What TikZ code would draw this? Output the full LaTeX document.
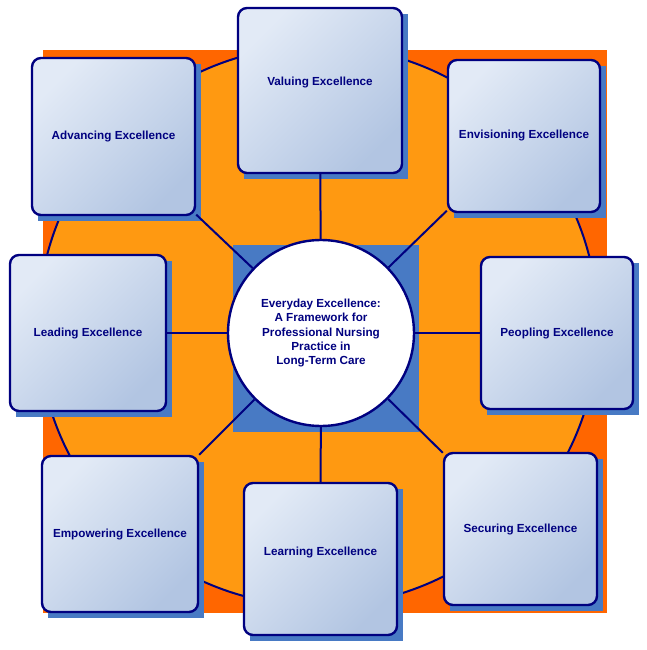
\documentclass[tikz,border=0pt]{standalone}
\usepackage{fontspec}
\setmainfont{Liberation Sans}
\definecolor{navy}{RGB}{0,0,128}
\definecolor{rust}{RGB}{255,102,0}
\definecolor{amber}{RGB}{255,153,17}
\definecolor{steel}{RGB}{72,122,196}
\definecolor{paleblue}{RGB}{226,234,246}
\definecolor{mistblue}{RGB}{178,197,226}

\begin{document}
\begin{tikzpicture}[x=1pt, y=-1pt, anchor=center,
	font=\fontsize{11.7}{14.3}\selectfont\bfseries,
	pillar/.style={draw=navy, line width=2.4pt, rounded corners=9pt, left color=paleblue, right color=mistblue, shading angle=45, text=navy, inner sep=0pt},
	link/.style={draw=navy, line width=2pt}]

		\useasboundingbox (0,0) rectangle (647,650);

		\newcommand{\mkpillar}[6]{
			%ombre
			\fill[steel] (#2-#4/2+6,#3-#5/2+6) rectangle (#2+#4/2+6,#3+#5/2+6);
			%la case
			\node[pillar, minimum width=#4pt, minimum height=#5pt] (#1) at (#2,#3) {#6};
		}

		%le fond
		\fill[rust] (43,50) rectangle (607,613);
		\filldraw[amber, draw=navy, line width=2pt] (318,326) circle (280pt);
		\fill[steel] (233,245) rectangle (419,432);

		%le centre
		\node[circle, draw=navy, fill=white, line width=2.4pt, minimum size=186pt, inner sep=0pt, text=navy, align=center] (hub) at (321,333)
			{Everyday Excellence:\\A Framework for\\Professional Nursing\\Practice in\\Long-Term Care};

		%les cases
		\mkpillar{valu}{320}{90.5}{164}{165}{\raisebox{7.5pt}[\height][\depth]{Valuing Excellence}}
		\mkpillar{envi}{524}{136}{152}{152}{Envisioning Excellence}
		\mkpillar{adva}{113.5}{136.5}{163}{157}{Advancing Excellence}
		\mkpillar{lead}{88}{333}{156}{156}{Leading Excellence}
		\mkpillar{peop}{557}{333}{152}{152}{Peopling Excellence}
		\mkpillar{empo}{120}{534}{156}{156}{Empowering Excellence}
		\mkpillar{lear}{320.5}{559}{153}{152}{\raisebox{7pt}[\height][\depth]{Learning Excellence}}
		\mkpillar{secu}{520.5}{529}{153}{152}{Securing Excellence}

		%les liens
		\foreach \p in {valu,envi,adva,lead,peop,empo,lear,secu}
			\draw[link] (hub) -- (\p);

\end{tikzpicture}
\end{document}
